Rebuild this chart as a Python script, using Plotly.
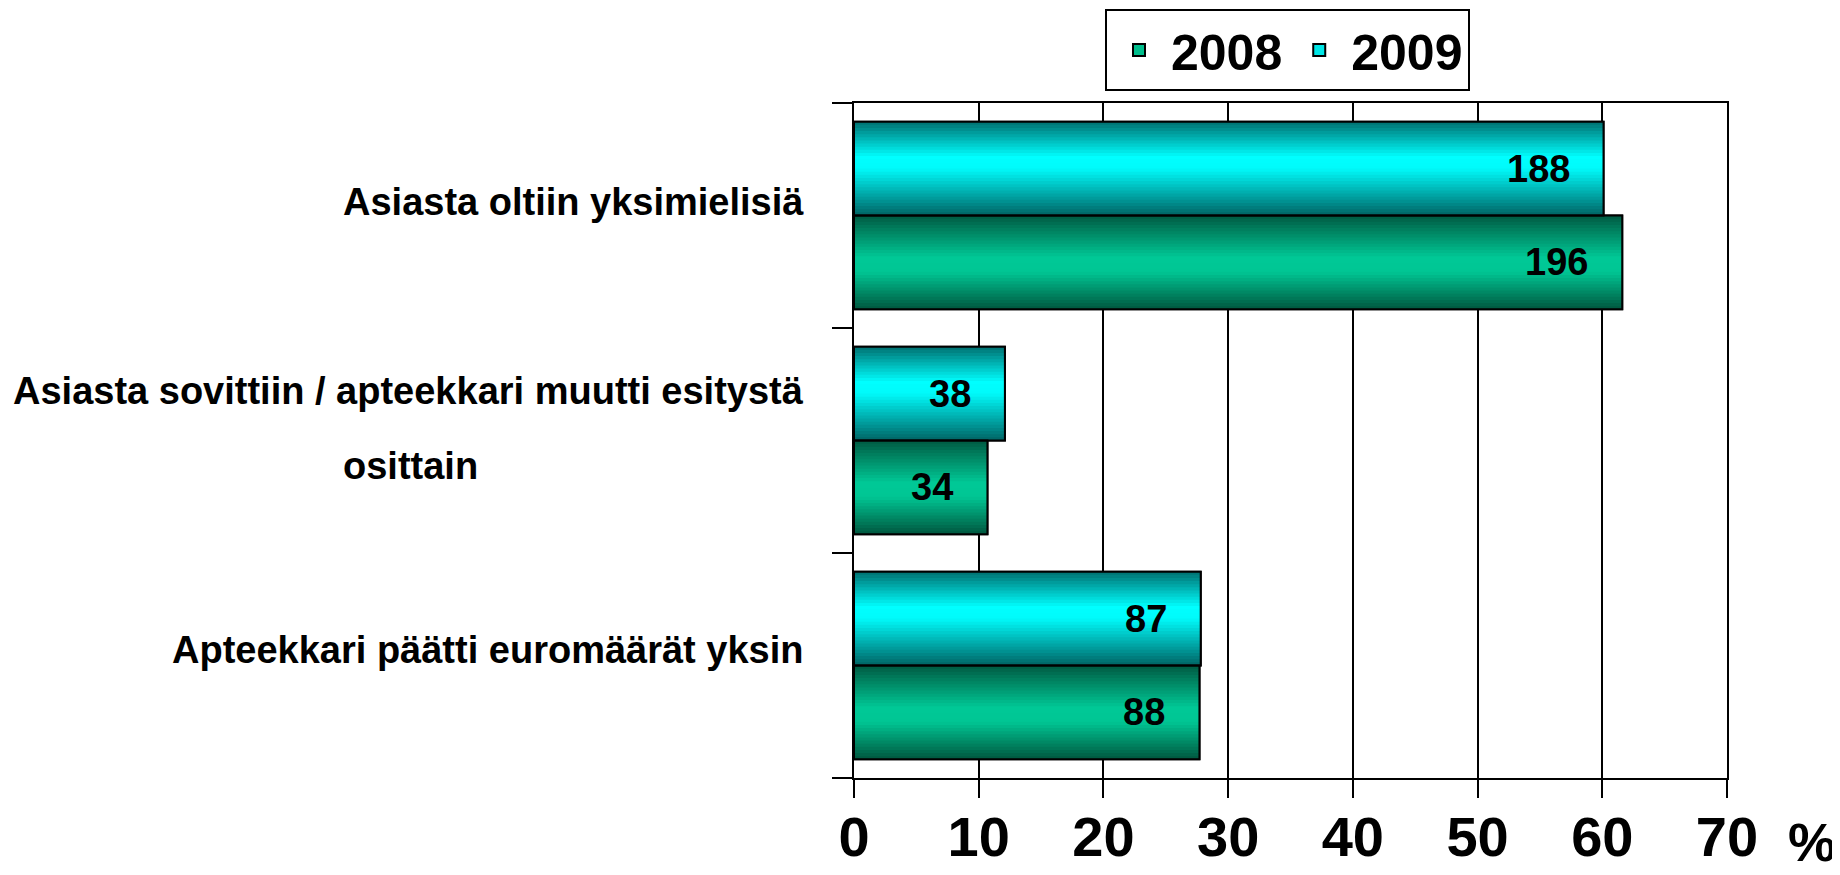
import plotly.graph_objects as go

# ---- data ----
categories = [
    "Apteekkari päätti euromäärät yksin",
    "Asiasta sovittiin / apteekkari muutti esitystä osittain",
    "Asiasta oltiin yksimielisiä",
]
pct_2008 = [27.7, 10.7, 61.6]
pct_2009 = [27.8, 12.1, 60.1]
count_2008 = [88, 34, 196]
count_2009 = [87, 38, 188]
series_names = ["2008", "2009"]
x_ticks = [0, 10, 20, 30, 40, 50, 60, 70]

# ---- style ----
FONT = "Liberation Sans"
W = 0.4167          # bar thickness in category units
N = 30              # gradient strips per bar
PAGE_OFF = 8        # page body margin of the html output


def lerp_stops(stops, t):
    for (t0, c0), (t1, c1) in zip(stops[:-1], stops[1:]):
        if t0 <= t <= t1:
            f = (t - t0) / (t1 - t0) if t1 > t0 else 0
            c = [round(a + (b - a) * f) for a, b in zip(c0, c1)]
            return "rgb(%d,%d,%d)" % tuple(c)
    return "rgb(%d,%d,%d)" % tuple(stops[-1][1])


grad = {
    "2008": [(0, (0, 90, 66)), (0.45, (0, 200, 150)), (0.6, (0, 198, 148)), (1, (0, 86, 62))],
    "2009": [(0, (0, 112, 112)), (0.38, (0, 255, 255)), (0.5, (0, 250, 250)), (1, (0, 100, 100))],
}
mid_color = {"2008": "rgb(0,190,140)", "2009": "rgb(0,230,230)"}
base_offset = {"2008": -W, "2009": 0.0}
values = {"2008": pct_2008, "2009": pct_2009}
counts = {"2008": count_2008, "2009": count_2009}

fig = go.Figure()

# base layers (also legend entries)
for name in series_names:
    fig.add_trace(go.Bar(
        x=values[name], y=categories, orientation="h", name=name,
        width=[W] * len(categories), offset=base_offset[name],
        marker=dict(color=mid_color[name], line=dict(color="black", width=2)),
        hoverinfo="skip",
    ))

# gradient strips: each strip runs from its top edge down to the bar bottom,
# drawn top to bottom so later strips cover earlier ones (no seams)
for name in series_names:
    for i in range(N):
        t = (i + 0.5) / N
        top = base_offset[name] + W - i * W / N
        bottom = base_offset[name]
        fig.add_trace(go.Bar(
            x=values[name], y=categories, orientation="h",
            width=[top - bottom] * len(categories), offset=bottom,
            marker=dict(color=lerp_stops(grad[name], t), line=dict(width=0)),
            showlegend=False, hoverinfo="skip",
        ))

# outlines on top
for name in series_names:
    fig.add_trace(go.Bar(
        x=values[name], y=categories, orientation="h",
        width=[W] * len(categories), offset=base_offset[name],
        marker=dict(color="rgba(0,0,0,0)", line=dict(color="black", width=2)),
        showlegend=False, hoverinfo="skip",
    ))

annotations = []
# value labels inside bars
for name in series_names:
    for k, cat in enumerate(categories):
        annotations.append(dict(
            x=values[name][k], y=k + base_offset[name] + W / 2, xref="x", yref="y",
            text=str(counts[name][k]), showarrow=False, xanchor="right", yanchor="middle",
            xshift=-32, font=dict(family=FONT, size=38, color="black", weight="bold"),
        ))

# category labels
cat_font = dict(family=FONT, size=38, color="black", weight="bold")
annotations.append(dict(x=0, y=2, xref="paper", yref="y", text=categories[2], showarrow=False,
                        xanchor="right", yanchor="middle", xshift=-48, yshift=14, font=cat_font))
annotations.append(dict(x=0, y=0, xref="paper", yref="y", text=categories[0], showarrow=False,
                        xanchor="right", yanchor="middle", xshift=-48, yshift=16, font=cat_font))
annotations.append(dict(x=0, y=1, xref="paper", yref="y",
                        text="Asiasta sovittiin / apteekkari muutti esitystä", showarrow=False,
                        xanchor="right", yanchor="middle", xshift=-48, yshift=50, font=cat_font))
annotations.append(dict(x=(410 - 854) / 873, y=1, xref="paper", yref="y", text="osittain",
                        showarrow=False, xanchor="center", yanchor="middle", yshift=-25,
                        font=cat_font))
# percent sign
annotations.append(dict(x=(1812 - 854) / 873, y=-(842 - 778) / 675, xref="paper", yref="paper",
                        text="%", showarrow=False, xanchor="center", yanchor="middle",
                        font=dict(family=FONT, size=54, color="black", weight="bold")))

fig.update_layout(
    width=1840 - PAGE_OFF, height=875 - PAGE_OFF,
    margin=dict(l=854 - PAGE_OFF, r=113, t=103 - PAGE_OFF, b=97, autoexpand=False),
    paper_bgcolor="white", plot_bgcolor="white",
    barmode="overlay",
    font=dict(family=FONT, color="black", weight="bold"),
    showlegend=True,
    legend=dict(
        orientation="h", x=(1105 - 854) / 873, y=1 + (103 - 9) / 675,
        xanchor="left", yanchor="top", itemwidth=54,
        font=dict(family=FONT, size=50, color="black", weight="bold"),
        bgcolor="white", bordercolor="black", borderwidth=2,
        traceorder="normal", itemclick=False, itemdoubleclick=False,
    ),
    xaxis=dict(
        range=[0, 70], tickvals=x_ticks, ticktext=[str(v) for v in x_ticks],
        showgrid=True, gridcolor="black", gridwidth=1.5,
        showline=True, linecolor="black", linewidth=2, mirror=True,
        ticks="outside", ticklen=18, tickwidth=1.5, tickcolor="black",
        tickfont=dict(family=FONT, size=56, color="black", weight="bold"),
        ticklabelstandoff=-9, zeroline=False, fixedrange=True, automargin=False,
    ),
    yaxis=dict(
        type="category", categoryorder="array", categoryarray=categories,
        range=[-0.5, 2.5], showticklabels=False,
        showline=True, linecolor="black", linewidth=2, mirror=True,
        ticks="outside", ticklen=20, tickwidth=1.5, tickcolor="black",
        tickson="boundaries", showgrid=False, zeroline=False, fixedrange=True,
        automargin=False,
    ),
    annotations=annotations,
)

fig.write_html("out.html")
